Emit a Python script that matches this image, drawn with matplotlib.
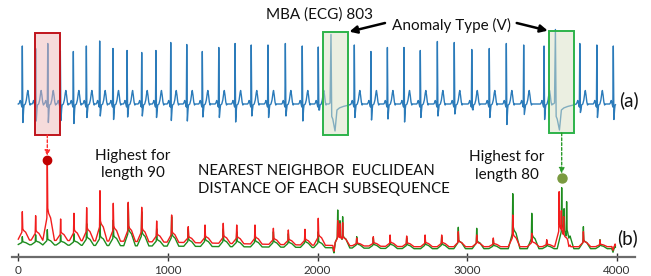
import numpy as np
import matplotlib
matplotlib.use("Agg")
import matplotlib.pyplot as plt
from matplotlib.patches import Rectangle, ConnectionPatch

# ---------------- data ----------------
# ECG (a): normal beat R-peak positions, R amplitudes and S depths
beat_pos = [27, 116, 197, 281, 368, 455, 544, 633, 727, 825, 920, 1019,
            1126, 1230, 1340, 1449, 1557, 1669, 1785, 1898, 2005,
            2246, 2357, 2467, 2578, 2687, 2801, 2914, 3031,
            3148, 3262, 3378, 3514, 3753, 3867, 3977]
beat_r = [1.16, 1.11, 1.21, 1.06, 1.05, 1.16, 1.26, 1.11, 1.07, 1.03, 1.07, 1.23,
          1.19, 1.05, 1.13, 1.21, 1.18, 1.18, 1.21, 1.16, 1.14,
          1.18, 1.05, 1.13, 1.13, 1.07, 1.25, 1.23, 1.09,
          1.11, 1.21, 1.18, 1.16, 1.21, 1.18, 1.16]
beat_s = [-0.37, -0.34, -0.37, -0.33, -0.39, -0.27, -0.24, -0.31, -0.26, -0.24, -0.27, -0.33,
          -0.34, -0.26, -0.27, -0.36, -0.24, -0.27, -0.24, -0.34, -0.12,
          -0.27, -0.32, -0.30, -0.36, -0.27, -0.24, -0.20, -0.10,
          -0.27, -0.41, -0.21, -0.31, -0.17, -0.27, -0.31]
# normal beat shape (offset in samples, value; R and S slots are scaled per beat)
norm_off = [-24, -18, -14, -10, -6, -3, 0, 4, 8, 12, 20, 27, 33, 37, 41, 46, 52, 56]
norm_val = [0.0, 0.03, 0.07, 0.02, -0.02, -0.06, 1.0, -1.0, -0.12, -0.02, 0.0, 0.08,
            0.22, 0.27, 0.2, 0.05, -0.02, 0.0]
# anomalous (V) beats
v_pos = [2090, 3590]
v_r = [1.39, 1.49]
v_trough = [-0.54, -0.52]
v_off = [-14, -6, 0, 5, 12, 27, 40, 55, 80, 110, 140]
v_val = [0.0, 0.02, 1.0, -0.25, -0.3, -1.0, -0.12, -0.08, -0.05, -0.03, 0.0]
anomaly_windows = [(112, 279), (2037, 2204), (3548, 3715)]
window_bottom = [-0.62, -0.62, -0.58]
window_top = [1.42, 1.44, 1.46]

# distance profiles (b): red = length 90, green = length 80
red_peak_x = [27, 116, 194, 283, 372, 457, 546, 635, 735, 825, 925, 1025,
              1136, 1248, 1370, 1460, 1582, 1705, 1805, 1916, 2005,
              2135, 2150, 2168, 2262, 2373, 2485, 2596, 2719, 2830, 2941, 3064, 3175,
              3305, 3432, 3532, 3615, 3630, 3645, 3777, 3888, 3989]
red_peak_y = [4.5, 4.1, 9.67, 3.77, 4.34, 4.9, 6.6, 5.34, 5.44, 4.94, 3.57, 4.17,
              3.0, 3.17, 3.34, 3.17, 3.17, 2.84, 2.67, 2.74, 3.84,
              3.6, 3.3, 3.4, 1.87, 2.0, 2.17, 2.07, 2.17, 2.17, 2.5, 2.17, 1.87,
              4.17, 2.34, 1.7, 6.5, 4.6, 4.0, 2.5, 1.67, 1.27]
green_peak_x = [27, 116, 194, 283, 372, 457, 546, 635, 735, 825, 925, 1025,
                1136, 1248, 1370, 1460, 1582, 1705, 1805, 1916, 2005,
                2135, 2150, 2168, 2262, 2373, 2485, 2596, 2719, 2830, 2941, 3064, 3175,
                3305, 3432, 3532, 3632, 3648, 3665, 3777, 3888, 3989]
green_peak_y = [2.0, 2.2, 2.7, 2.2, 2.3, 3.3, 3.5, 3.67, 5.34, 4.5, 2.8, 4.0,
                2.8, 2.8, 2.8, 2.5, 2.6, 2.5, 2.3, 2.5, 2.5,
                4.67, 3.6, 4.0, 2.0, 1.9, 2.0, 1.9, 2.0, 2.0, 2.94, 2.84, 1.7,
                6.3, 4.34, 1.6, 6.9, 4.8, 5.5, 3.0, 1.7, 1.1]
base_x = [0, 700, 1800, 2600, 4000]
red_base_y = [1.67, 1.55, 1.2, 1.0, 1.0]
green_base_y = [1.2, 1.1, 0.95, 0.8, 0.8]
dip_x = [2110, 3680, 3975]
dip_depth = [-0.7, -0.4, -0.4]
spike_off = [-30, -18, -8, -3, 0, 3, 8, 22, 35, 48]
spike_frac = [0.0, 0.12, 0.22, 0.28, 1.0, 0.4, 0.34, 0.28, 0.14, 0.0]

x_ticks = [0, 1000, 2000, 3000, 4000]

# ---------------- build series ----------------
t = np.arange(0, 3992, 1.0)
ecg = np.zeros_like(t)
for p, r, s in zip(beat_pos, beat_r, beat_s):
    vals = np.array(norm_val, dtype=float)
    vals[6] = r
    vals[7] = s
    ecg += np.interp(t, p + np.array(norm_off), vals, left=0, right=0)
for p, r, tr in zip(v_pos, v_r, v_trough):
    vals = np.array(v_val, dtype=float)
    vals[2] = r
    vals[5] = tr
    ecg += np.interp(t, p + np.array(v_off), vals, left=0, right=0)


def profile(px, py, base_y):
    base = np.interp(t, base_x, base_y)
    contrib = np.zeros_like(t)
    for p, h in zip(px, py):
        amp = h - np.interp(p, base_x, base_y)
        c = amp * np.interp(t, p + np.array(spike_off), spike_frac, left=0, right=0)
        contrib = np.maximum(contrib, c)
    dips = np.zeros_like(t)
    for p, d in zip(dip_x, dip_depth):
        dips += d * np.interp(t, [p - 8, p, p + 8], [0, 1, 0], left=0, right=0)
    return base + contrib + dips


red = profile(red_peak_x, red_peak_y, red_base_y)
green = profile(green_peak_x, green_peak_y, green_base_y)

# ---------------- figure ----------------
W, H = 651, 276
fig = plt.figure(figsize=(W / 100, H / 100), dpi=100)
FONT = ["Lato", "DejaVu Sans"]

def fx(px):
    return px / W

def fy(py):
    return 1 - py / H

xlim = (-42, 4122)
ax_top = fig.add_axes([fx(12), fy(140), 623 / W, 140 / H])
ax_bot = fig.add_axes([fx(12), fy(256.7), 623 / W, 106.7 / H])

ax_top.plot(t, ecg, color="#2b7bba", lw=1.0, zorder=2)
ax_top.set_xlim(*xlim)
ax_top.set_ylim(-0.72, 2.08)
ax_top.axis("off")

box_styles = [("#eeb8b8", "#c0141c"), ("#d8e0c4", "#2db34a"), ("#d8e0c4", "#2db34a")]
for (x0, x1), b0, b1, (fc, ec) in zip(anomaly_windows, window_bottom, window_top, box_styles):
    ax_top.add_patch(Rectangle((x0, b0), x1 - x0, b1 - b0, facecolor=fc, alpha=0.5,
                               edgecolor="none", zorder=3))
    ax_top.add_patch(Rectangle((x0, b0), x1 - x0, b1 - b0, facecolor="none",
                               edgecolor=ec, lw=1.4, zorder=4))

ax_bot.plot(t, red, color="#f21d1d", lw=1.0, zorder=3)
ax_bot.plot(t, green, color="#1e8c1e", lw=1.0, zorder=2)
ax_bot.set_xlim(*xlim)
ax_bot.set_ylim(0, 10.67)
for sp in ["left", "top", "right"]:
    ax_bot.spines[sp].set_visible(False)
ax_bot.spines["bottom"].set_color("#6b6b6b")
ax_bot.spines["bottom"].set_linewidth(1.6)
ax_bot.set_yticks([])
ax_bot.set_xticks(x_ticks)
ax_bot.set_xticklabels([str(v) for v in x_ticks], fontsize=8.5, color="#333333",
                       family=FONT)
ax_bot.tick_params(axis="x", direction="inout", length=6, width=1.0,
                   color="#333333", pad=3)
ax_bot.patch.set_alpha(0)

# highlighted maxima
ri = int(np.argmax(red))
gi = int(np.argmax(green))
red_dot = (t[ri], red[ri])
green_dot = (t[gi], green[gi] + 1.0)
ax_bot.plot(*red_dot, "o", color="#c00000", ms=6, zorder=5, clip_on=False)
ax_bot.plot(*green_dot, "o", color="#7a9a40", ms=6.5, zorder=5, clip_on=False)

for (dx, dy), wi, col in [(red_dot, 0, "#ff3030"), (green_dot, 2, "#2a9a2a")]:
    con = ConnectionPatch(xyA=(dx, window_bottom[wi]), coordsA=ax_top.transData,
                          xyB=(dx, dy), coordsB=ax_bot.transData,
                          arrowstyle="-|>", linestyle=(0, (2, 1.5)), color=col,
                          lw=1.0, mutation_scale=8, shrinkA=0, shrinkB=3)
    fig.add_artist(con)

# texts
fig.text(fx(320), fy(15), "MBA (ECG) 803", ha="center", va="center",
         fontsize=11, family=FONT, color="#111111")
fig.text(fx(451), fy(25), "Anomaly Type (V)", ha="center", va="center",
         fontsize=11, family=FONT, color="#111111")
fig.text(fx(629), fy(100), "(a)", ha="center", va="center", fontsize=13.5,
         family=FONT, color="#111111")
fig.text(fx(628), fy(238), "(b)", ha="center", va="center", fontsize=13.5,
         family=FONT, color="#111111")
fig.text(fx(132.5), fy(164.7), "Highest for\nlength 90", ha="center", va="center",
         fontsize=11, family=FONT, color="#111111", linespacing=1.3)
fig.text(fx(506.7), fy(166), "Highest for\nlength 80", ha="center", va="center",
         fontsize=11, family=FONT, color="#111111", linespacing=1.3)
fig.text(fx(197.5), fy(180), "NEAREST NEIGHBOR  EUCLIDEAN\nDISTANCE OF EACH SUBSEQUENCE",
         ha="left", va="center", fontsize=10.7, family=FONT, color="#111111",
         linespacing=1.3)

# arrows to anomalies
for tail, wi, corner in [((385, 23), 1, 1), ((516.7, 23), 2, 0)]:
    xa = anomaly_windows[wi][corner]
    ax_top.annotate("", xy=(xa, window_top[wi]), xycoords="data",
                    xytext=(fx(tail[0]), fy(tail[1])), textcoords="figure fraction",
                    arrowprops=dict(arrowstyle="-|>", color="black", lw=1.8,
                                    mutation_scale=11, shrinkA=0, shrinkB=1),
                    annotation_clip=False)

fig.savefig("out.png", dpi=100)
